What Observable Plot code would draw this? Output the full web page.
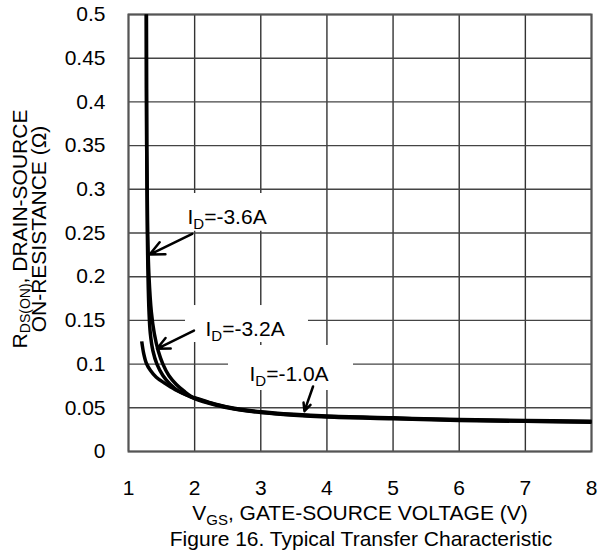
<!DOCTYPE html>
<html>
<head>
<meta charset="utf-8">
<script src="https://cdn.jsdelivr.net/npm/d3@7"></script>
<script src="https://cdn.jsdelivr.net/npm/@observablehq/plot@0.6"></script>
<style>
  html, body { margin: 0; padding: 0; background: #fff; }
  #chart svg { display: block; }
</style>
</head>
<body>
<div id="chart"></div>
<script>
// ---- data ----
const xTicks = [1, 2, 3, 4, 5, 6, 7, 8];
const yTicks = [0, 0.05, 0.1, 0.15, 0.2, 0.25, 0.3, 0.35, 0.4, 0.45, 0.5];
const yTickLabels = ["0", "0.05", "0.1", "0.15", "0.2", "0.25", "0.3", "0.35", "0.4", "0.45", "0.5"];

const vgs36 = [1.27, 1.275, 1.285, 1.295, 1.31, 1.33, 1.37, 1.43, 1.52, 1.63, 1.76, 1.90, 2.0, 2.3, 2.6, 3.0, 3.5, 4, 5, 6, 7, 8];
const r36   = [0.5, 0.35, 0.25, 0.2, 0.16, 0.135, 0.115, 0.1, 0.087, 0.077, 0.069, 0.064, 0.061, 0.054, 0.049, 0.045, 0.042, 0.040, 0.038, 0.036, 0.035, 0.034];

const vgs32 = [1.27, 1.275, 1.29, 1.31, 1.345, 1.39, 1.45, 1.52, 1.61, 1.72, 1.84, 1.95, 2.05, 2.3, 2.6, 3.0, 3.5, 4, 5, 6, 7, 8];
const r32   = [0.5, 0.35, 0.25, 0.2, 0.16, 0.135, 0.115, 0.1, 0.087, 0.077, 0.069, 0.063, 0.0605, 0.0545, 0.0495, 0.0455, 0.0425, 0.0405, 0.0385, 0.0365, 0.0355, 0.0345];

const vgs10 = [1.20, 1.23, 1.27, 1.33, 1.42, 1.55, 1.70, 1.85, 2.0, 2.3, 2.6, 3.0, 3.5, 4, 5, 6, 7, 8];
const r10   = [0.126, 0.112, 0.101, 0.093, 0.085, 0.078, 0.071, 0.066, 0.0605, 0.0535, 0.0485, 0.0445, 0.0415, 0.0395, 0.0375, 0.0355, 0.0345, 0.0335];

const seriesNames = ["-3.6A", "-3.2A", "-1.0A"];
const labelText = ["ID=-3.6A", "ID=-3.2A", "ID=-1.0A"];
const labelX = [1.892, 2.164, 2.829];
const labelY = [0.2685, 0.1404, 0.0889];
const arrowFromX = [1.963, 1.99, 3.79];
const arrowFromY = [0.249, 0.1384, 0.0744];
const arrowToX = [1.32, 1.43, 3.66];
const arrowToY = [0.2254, 0.1175, 0.0461];
const boxX1 = [1.71, 1.862, 2.512];
const boxX2 = [3.33, 3.721, 4.402];
const boxY1 = [0.252, 0.1247, 0.0698];
const boxY2 = [0.2952, 0.167, 0.1213];

// ---- build tables ----
const curves = [
  ...vgs36.map((v, i) => ({series: seriesNames[0], v, r: r36[i]})),
  ...vgs32.map((v, i) => ({series: seriesNames[1], v, r: r32[i]})),
  ...vgs10.map((v, i) => ({series: seriesNames[2], v, r: r10[i]}))
];
const labels = labelText.map((t, i) => ({t, x: labelX[i], y: labelY[i]}));
const arrows = arrowFromX.map((d, i) => ({x1: d, y1: arrowFromY[i], x2: arrowToX[i], y2: arrowToY[i]}));
const boxes = boxX1.map((d, i) => ({x1: d, x2: boxX2[i], y1: boxY1[i], y2: boxY2[i]}));

const FONT = "'Liberation Sans', Arial, Helvetica, sans-serif";

const plot = Plot.plot({
  width: 613,
  height: 554,
  marginLeft: 128,
  marginRight: 22,
  marginTop: 14,
  marginBottom: 103,
  style: {fontFamily: FONT, fontSize: "21px", background: "#fff", color: "#000"},
  x: {domain: [1, 8], ticks: xTicks},
  y: {domain: [0, 0.5], ticks: yTicks},
  marks: [
    Plot.gridX(xTicks, {stroke: "#333", strokeOpacity: 1, strokeWidth: 1.4}),
    Plot.gridY(yTicks, {stroke: "#444", strokeOpacity: 1, strokeWidth: 1.4}),
    Plot.rect(boxes, {x1: "x1", x2: "x2", y1: "y1", y2: "y2", fill: "#fff"}),
    Plot.frame({stroke: "#555", strokeWidth: 2}),
    Plot.axisX(xTicks, {tickSize: 0, tickPadding: 29, fontSize: 21, label: null, tickFormat: d => String(d)}),
    Plot.axisY(yTicks, {tickSize: 0, tickPadding: 23, fontSize: 21, label: null,
      tickFormat: d => yTickLabels[yTicks.indexOf(d)]}),
    Plot.line(curves, {x: "v", y: "r", z: "series", stroke: "#000", strokeWidth: 3.5,
      curve: "catmull-rom", strokeLinejoin: "round", strokeLinecap: "butt"}),
    Plot.arrow(arrows, {x1: "x1", y1: "y1", x2: "x2", y2: "y2", stroke: "#000",
      strokeWidth: 2.5, headLength: 12, headAngle: 50}),
    Plot.text(labels, {x: "x", y: "y", text: "t", textAnchor: "start", fontSize: 21, fill: "#000"})
  ]
});

document.getElementById("chart").appendChild(plot);

const svg = d3.select(plot);

// Subscript for the curve labels
svg.selectAll("text").each(function () {
  const el = d3.select(this);
  const s = this.textContent;
  if (this.childElementCount === 0 && s.startsWith("ID=")) {
    el.text(null);
    el.append("tspan").text("I");
    el.append("tspan").attr("dy", 5).attr("font-size", 15).text("D");
    el.append("tspan").attr("dy", -5).text(s.slice(2));
  }
});

// Y-axis title (two rotated lines)
const yT1 = svg.append("text")
  .attr("transform", "translate(27,229) rotate(-90)")
  .attr("text-anchor", "middle")
  .attr("font-family", FONT).attr("font-size", 21).attr("fill", "#000");
yT1.append("tspan").text("R");
yT1.append("tspan").attr("dy", 3).attr("font-size", 14).text("DS(ON)");
yT1.append("tspan").attr("dy", -3).text(", DRAIN-SOURCE");

svg.append("text")
  .attr("transform", "translate(46,229) rotate(-90)")
  .attr("text-anchor", "middle")
  .attr("font-family", FONT).attr("font-size", 21).attr("fill", "#000")
  .text("ON-RESISTANCE (Ω)");

// X-axis title
const xT = svg.append("text")
  .attr("x", 360).attr("y", 520)
  .attr("text-anchor", "middle")
  .attr("font-family", FONT).attr("font-size", 21).attr("fill", "#000");
xT.append("tspan").text("V");
xT.append("tspan").attr("dy", 5).attr("font-size", 15).text("GS");
xT.append("tspan").attr("dy", -5).text(", GATE-SOURCE VOLTAGE (V)");

// Caption
svg.append("text")
  .attr("x", 361).attr("y", 546)
  .attr("text-anchor", "middle")
  .attr("font-family", FONT).attr("font-size", 21).attr("fill", "#000")
  .text("Figure 16. Typical Transfer Characteristic");
</script>
</body>
</html>
